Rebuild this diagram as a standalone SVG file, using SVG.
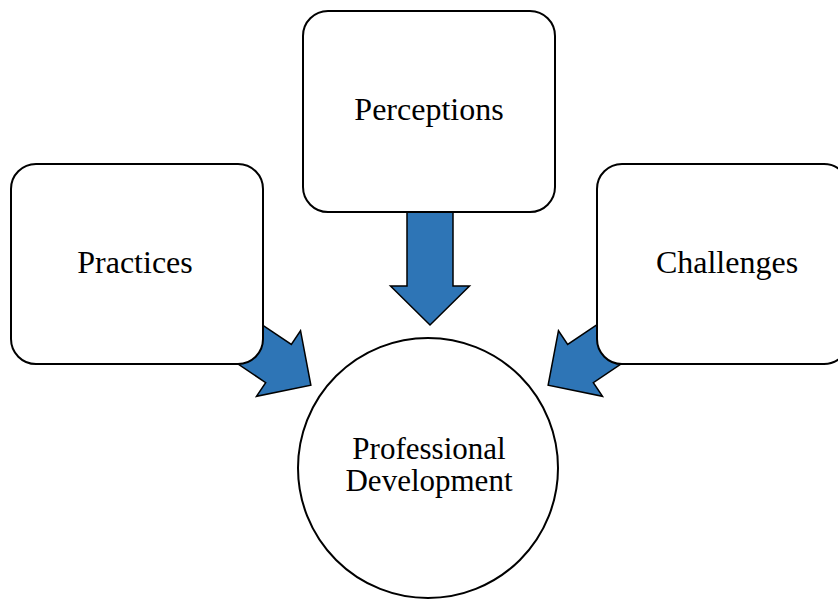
<svg xmlns="http://www.w3.org/2000/svg" width="838" height="601" viewBox="0 0 838 601">
  <style>
    .box { fill: #ffffff; stroke: #000000; stroke-width: 2; }
    .arrow { fill: #2E75B6; stroke: #000000; stroke-width: 1.5; stroke-linejoin: miter; }
    .label { font-family: "Liberation Serif", "Times New Roman", serif; font-size: 32px; fill: #000000; text-anchor: middle; }
    .small { font-size: 31px; }
  </style>
  <defs>
    <!-- block arrow pointing along +x, origin at the base of the head -->
    <path id="blockArrow" d="M -120,-23 L 0,-23 L 0,-39.5 L 39,0 L 0,39.5 L 0,23 L -120,23 Z"/>
  </defs>
  <rect width="838" height="601" fill="#ffffff"/>

  <!-- connectors: drawn first so the boxes cover their tails -->
  <g id="connectors">
    <use href="#blockArrow" class="arrow" transform="translate(430,286) rotate(90)"/>
    <use href="#blockArrow" class="arrow" transform="translate(278.5,363.5) rotate(33.9)"/>
    <use href="#blockArrow" class="arrow" transform="translate(580.5,363.5) rotate(146.1)"/>
  </g>

  <g id="perceptions">
    <rect class="box" x="303" y="11" width="252" height="201" rx="25" ry="25"/>
    <text class="label" x="429" y="120">Perceptions</text>
  </g>

  <g id="practices">
    <rect class="box" x="11" y="164" width="252" height="200" rx="25" ry="25"/>
    <text class="label" x="135" y="273">Practices</text>
  </g>

  <g id="challenges">
    <rect class="box" x="597" y="164" width="252" height="200" rx="25" ry="25"/>
    <text class="label" x="727" y="273">Challenges</text>
  </g>

  <g id="professional-development">
    <circle class="box" cx="428" cy="468" r="130"/>
    <text class="label small" x="429" y="459">Professional</text>
    <text class="label small" x="429" y="491">Development</text>
  </g>
</svg>
